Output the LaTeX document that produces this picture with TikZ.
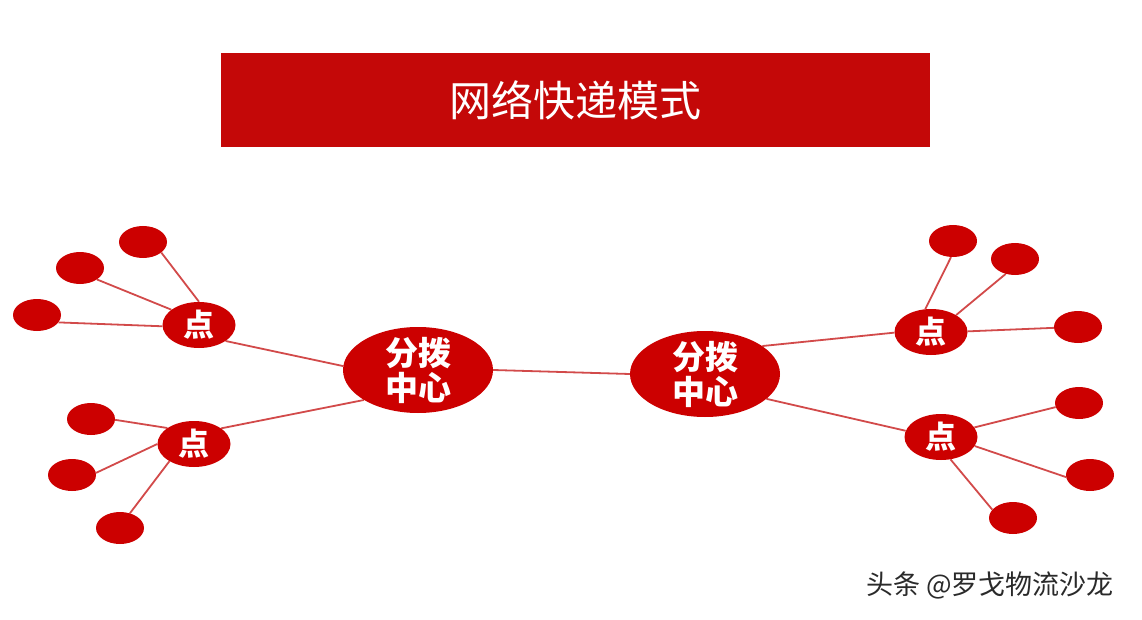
\documentclass[tikz,border=0pt]{standalone}
\usepackage{fontspec}
\newfontfamily\cjk{Noto Sans CJK SC}
\usetikzlibrary{shapes.geometric,backgrounds}
\definecolor{nodered}{HTML}{CC0000}
\definecolor{titlered}{HTML}{C40808}
\definecolor{linkred}{HTML}{D24A4A}
\definecolor{markgray}{HTML}{2A2A2A}
\begin{document}
\begin{tikzpicture}[x=1pt,y=-1pt,
  hub/.style={ellipse, fill=nodered, minimum width=150pt, minimum height=86pt, inner sep=0pt},
  hubtext/.style={text=white, font=\cjk\bfseries\fontsize{33pt}{35pt}\selectfont, align=center, inner sep=0pt},
  spot/.style={ellipse, fill=nodered, minimum width=73pt, minimum height=46pt, inner sep=0pt},
  spottext/.style={text=white, font=\cjk\bfseries\fontsize{31pt}{33pt}\selectfont, inner sep=0pt},
  leaf/.style={ellipse, fill=nodered, minimum width=48pt, minimum height=32pt, inner sep=0pt},
  link/.style={draw=linkred, line width=1.8pt}]
\useasboundingbox (0,0) rectangle (1142,620);
% title
\node[fill=titlered, minimum width=709pt, minimum height=94pt, inner sep=0pt, anchor=north west,
      text=white, font=\cjk\fontsize{42pt}{44pt}\selectfont] (title) at (221,53) {网络快递模式};
% hubs
\node[hub, label={[hubtext, name=hubLt]center:分拨\\中心}] (hubL) at (418,370) {};
\node[hub, label={[hubtext, name=hubRt]center:分拨\\中心}] (hubR) at (705,374) {};
% points
\node[spot, label={[spottext, name=pULt]center:点}] (pUL) at (199,325) {};
\node[spot, label={[spottext, name=pLLt]center:点}] (pLL) at (194,444) {};
\node[spot, label={[spottext, name=pURt]center:点}] (pUR) at (931,332) {};
\node[spot, label={[spottext, name=pLRt]center:点}] (pLR) at (941,437) {};
% leaves left
\node[leaf] (L1) at (143,242) {};
\node[leaf] (L2) at (80,268) {};
\node[leaf] (L3) at (37,315) {};
\node[leaf] (L4) at (91,419) {};
\node[leaf] (L5) at (72,475) {};
\node[leaf] (L6) at (120,528) {};
% leaves right
\node[leaf] (R1) at (953,241) {};
\node[leaf] (R2) at (1015,259) {};
\node[leaf] (R3) at (1078,327) {};
\node[leaf] (R4) at (1079,403) {};
\node[leaf] (R5) at (1090,475) {};
\node[leaf] (R6) at (1013,518) {};
% watermark
\node[text=markgray, font=\cjk\fontsize{27pt}{29pt}\selectfont, inner sep=0pt] (mark) at (990,585) {头条 @罗戈物流沙龙};
% connectors
\begin{scope}[on background layer]
\draw[link] (hubL.east) -- (hubR.west);
\draw[link] (hubL.177.6) -- (pUL.329);
\draw[link] (hubL.209.5) -- (pLL.30);
\draw[link] (pUL.90) -- (L1.330);
\draw[link] (pUL.151) -- (L2.326);
\draw[link] (pUL.182) -- (L3.341);
\draw[link] (pLL.149) -- (L4.358);
\draw[link] (pLL.180) -- (L5.5);
\draw[link] (pLL.215) -- (L6.56);
\draw[link] (hubR.26) -- (pUR.181.6);
\draw[link] (hubR.338) -- (pLR.170);
\draw[link] (pUR.104) -- (R1.263);
\draw[link] (pUR.34) -- (R2.238.6);
\draw[link] (pUR.1.6) -- (R3.182.5);
\draw[link] (pLR.16) -- (R4.190);
\draw[link] (pLR.345.6) -- (R5.185);
\draw[link] (pLR.293) -- (R6.158);
\end{scope}
\end{tikzpicture}
\end{document}
